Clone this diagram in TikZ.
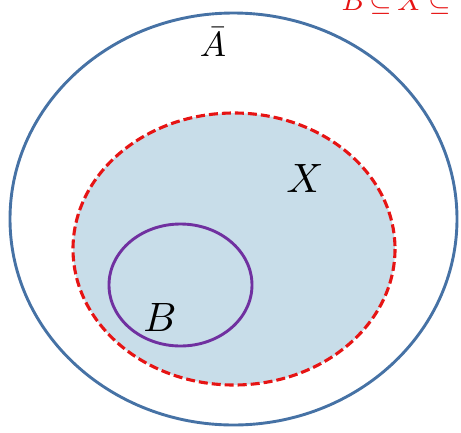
\documentclass[tikz,border=0pt]{standalone}
\usepackage{xcolor}
\definecolor{outerblue}{RGB}{70,114,165}
\definecolor{setred}{RGB}{230,20,20}
\definecolor{setpurple}{RGB}{112,48,160}
\definecolor{setfill}{RGB}{200,221,233}
\begin{document}
\begin{tikzpicture}[x=1pt,y=-1pt,
  outerset/.style={draw=outerblue,line width=2.9pt},
  xset/.style={draw=setred,line width=3.1pt,dash pattern=on 9pt off 4pt,fill=setfill},
  bset/.style={draw=setpurple,line width=2.9pt},
  lbl/.style={inner sep=0pt}]
\useasboundingbox (0,0) rectangle (461,432);
\clip (0,0) rectangle (461,432);
\draw[outerset] (233.5,219) ellipse [x radius=223.5, y radius=206];
\draw[xset] (234,249) ellipse [x radius=161, y radius=136];
\draw[bset] (180.5,285) ellipse [x radius=71.5, y radius=61];
\node[lbl,scale=3.5] (abar) at (213,42) {$\bar{A}$};
\node[lbl,scale=4.1] (xl) at (305,178) {$X$};
\node[lbl,scale=4.1] (bl) at (160,317) {$B$};
\node[lbl,anchor=base west,text=setred,scale=2.9] (rel) at (341,10) {$B\,{\subseteq}\, X\,{\subseteq}$};
\end{tikzpicture}
\end{document}
